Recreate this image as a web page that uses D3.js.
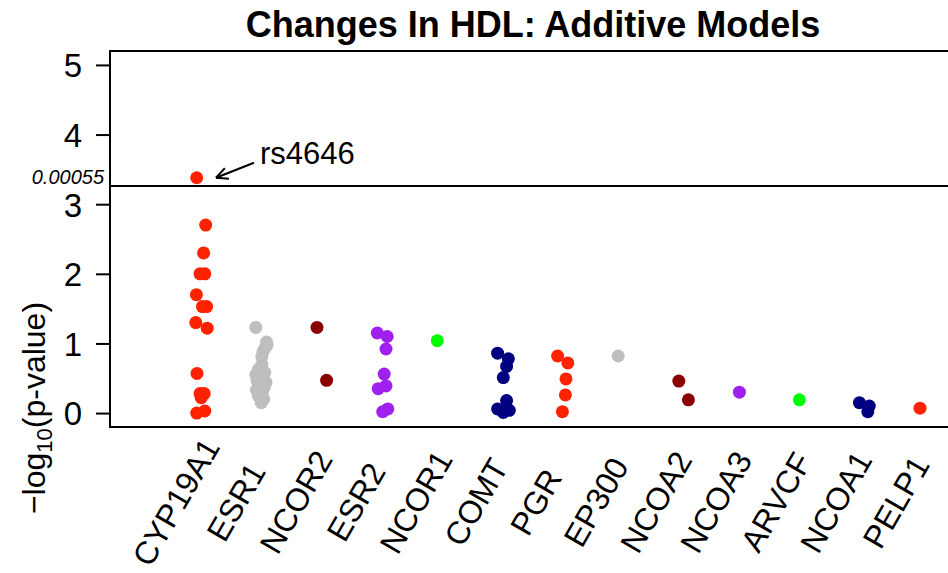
<!DOCTYPE html>
<html><head><meta charset="utf-8">
<script src="https://cdn.jsdelivr.net/npm/d3@7"></script>
<style>
html,body{margin:0;padding:0;background:#fff;}
text{font-family:"Liberation Sans",Arial,Helvetica,sans-serif;fill:#000;}
</style></head>
<body>
<svg id="chart" width="948" height="573"></svg>
<script>
// ---- data ----
const genes = ["CYP19A1","ESR1","NCOR2","ESR2","NCOR1","COMT","PGR","EP300","NCOA2","NCOA3","ARVCF","NCOA1","PELP1"];
const geneColors = ["#ff2200","#bebebe","#8b0000","#a020f0","#00ff00","#000080","#ff2200","#bebebe","#8b0000","#a020f0","#00ff00","#000080","#ff2200"];
// -log10(p) values per SNP, per gene
const logP = [
  [3.38,2.70,2.30,2.00,2.00,1.70,1.53,1.53,1.30,1.22,0.57,0.28,0.28,0.22,0.03,0.00],
  [1.23,1.02,0.98,0.93,0.88,0.81,0.70,0.62,0.58,0.55,0.50,0.47,0.44,0.40,0.37,0.33,0.30,0.25,0.20,0.15],
  [1.23,0.47],
  [1.15,1.10,0.92,0.56,0.39,0.35,0.06,0.02],
  [1.04],
  [0.86,0.78,0.67,0.51,0.18,0.06,0.04,0.01],
  [0.82,0.72,0.49,0.26,0.02],
  [0.82],
  [0.46,0.19],
  [0.30],
  [0.19],
  [0.15,0.10,0.02],
  [0.07]
];
// horizontal jitter (category units)
const jitter = [
  [-0.055,0.095,0.06,0,0.08,-0.06,0.04,0.11,-0.07,0.12,-0.05,0,0.07,0.02,0.08,-0.055],
  [-0.07,0.11,0.12,0.08,0.05,0.03,0.03,-0.03,0.08,-0.07,0.05,-0.05,0.10,-0.02,0.07,-0.06,0.04,-0.03,0.06,0.02],
  [-0.05,0.11],
  [-0.045,0.12,0.10,0.07,0.10,-0.03,0.13,0.045],
  [-0.045],
  [-0.04,0.14,0.11,0.055,0.11,-0.04,0.155,0.055],
  [-0.04,0.13,0.10,0.09,0.04],
  [-0.03],
  [-0.02,0.14],
  [-0.01],
  [-0.01],
  [-0.01,0.155,0.13],
  [0]
];
const yTicks = [0,1,2,3,4,5];
const threshP = 0.00055;
const threshLabel = "0.00055";
const topSnp = "rs4646";
const title = "Changes In HDL: Additive Models";

// ---- scales ----
const svg = d3.select("#chart");
const x = d3.scaleLinear().domain([-0.5, 14.6]).range([110, 1016]);
const y = d3.scaleLinear().domain([-0.2, 5.2]).range([427, 51]);

// title
svg.append("text").attr("x", 533).attr("y", 37).attr("text-anchor","middle")
  .style("font-size","36px").style("font-weight","bold").text(title);

// box (top, left, bottom; right edge beyond view)
svg.append("rect").attr("x", x(-0.5)).attr("y", y(5.2))
  .attr("width", x(14.6)-x(-0.5)).attr("height", y(-0.2)-y(5.2))
  .attr("fill","none").attr("stroke","#000").attr("stroke-width",2);

// y axis
const yAxis = svg.append("g").attr("transform",`translate(${x(-0.5)},0)`)
  .call(d3.axisLeft(y).tickValues(yTicks).tickSize(14).tickPadding(14).tickFormat(d3.format("d")));
yAxis.attr("font-size", null).attr("font-family", null);
yAxis.select(".domain").attr("stroke","#000").attr("stroke-width",2)
  .attr("d", `M0,${y(0)}V${y(5)}`);
yAxis.selectAll(".tick line").attr("stroke","#000").attr("stroke-width",2);
yAxis.selectAll(".tick text")
  .attr("x", -28).attr("text-anchor","end").attr("dy","0.36em")
  .attr("font-size", 33).style("font-size","33px");

// y title
const yt = svg.append("text").attr("transform",`translate(45,408) rotate(-90)`)
  .attr("text-anchor","middle").style("font-size","32px");
yt.append("tspan").text("\u2212log");
yt.append("tspan").attr("dy","0.3em").style("font-size","22px").text("10");
yt.append("tspan").attr("dy","-0.21em").text("(p-value)");

// threshold line
const ty = y(-Math.log10(threshP));
svg.append("line").attr("x1", x(-0.5)).attr("x2", x(14.6)).attr("y1", ty).attr("y2", ty)
  .attr("stroke","#000").attr("stroke-width",2);
svg.append("text").attr("x", x(-0.5)-6).attr("y", ty-2).attr("text-anchor","end")
  .style("font-size","20px").style("font-style","italic").text(threshLabel);

// points
genes.forEach((g, i) => {
  svg.append("g").selectAll("circle").data(logP[i]).join("circle")
    .attr("cx", (d, j) => x(i + 1 + jitter[i][j]))
    .attr("cy", d => y(d))
    .attr("r", 6.5)
    .attr("fill", geneColors[i]);
});

// annotation for top SNP
const topVal = d3.max(logP[0]);
const tipX = x(1) + 16, tipY = y(topVal);
const tailX = x(1) + 54, tailY = y(topVal) - 15;
svg.append("line").attr("x1", tailX).attr("y1", tailY).attr("x2", tipX).attr("y2", tipY)
  .attr("stroke","#000").attr("stroke-width",2);
const ang = Math.atan2(tailY - tipY, tailX - tipX);
[0.45, -0.45].forEach(a => {
  svg.append("line").attr("x1", tipX).attr("y1", tipY)
    .attr("x2", tipX + 13*Math.cos(ang + a)).attr("y2", tipY + 13*Math.sin(ang + a))
    .attr("stroke","#000").attr("stroke-width",2);
});
svg.append("text").attr("x", x(1) + 60).attr("y", y(topVal) - 14)
  .style("font-size","31px").text(topSnp);

// x labels rotated
svg.append("g").selectAll("text").data(genes).join("text")
  .attr("transform", (d, i) => `translate(${x(i + 1) - 24},502) rotate(-60)`)
  .attr("text-anchor","middle").attr("dy","0.35em")
  .style("font-size","32px").text(d => d);
</script>
</body></html>
